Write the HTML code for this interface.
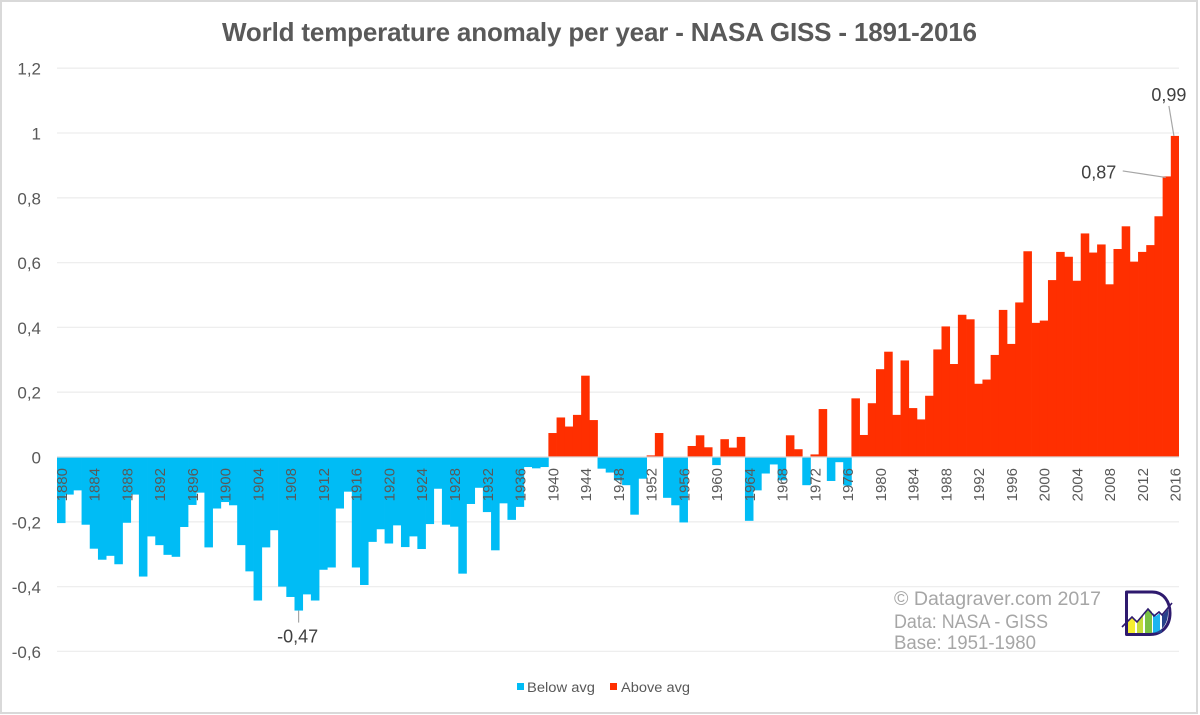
<!DOCTYPE html>
<html lang="en">
<head>
<meta charset="utf-8">
<title>World temperature anomaly per year - NASA GISS - 1891-2016</title>
<style>
html,body{margin:0;padding:0;background:#fff;}
#chart{display:block;width:1200px;height:715px;font-family:"Liberation Sans",Arial,sans-serif;}
</style>
</head>
<body>
<svg id="chart" xmlns="http://www.w3.org/2000/svg" width="1200" height="715" viewBox="0 0 1200 715">
  <rect x="1" y="1" width="1196" height="712" fill="#fff" stroke="#d9d9d9" stroke-width="2"/>
  <text x="222" y="41" font-size="26" font-weight="700" fill="#595959" textLength="755" lengthAdjust="spacing">World temperature anomaly per year - NASA GISS - 1891-2016</text>
  <g id="grid"></g>
  <g id="bars"></g>
  <g id="axis"></g>
  <g id="notes"></g>

  <g font-size="19" fill="#a6a6a6">
    <text x="894" y="605" textLength="207" lengthAdjust="spacingAndGlyphs">© Datagraver.com 2017</text>
    <text x="894" y="628" textLength="154" lengthAdjust="spacingAndGlyphs">Data: NASA - GISS</text>
    <text x="894" y="649" textLength="142" lengthAdjust="spacingAndGlyphs">Base: 1951-1980</text>
  </g>

  <g>
    <path d="M1126.5 592 H1152 C1164 592 1170 602 1170 613 C1170 626 1162 634.5 1150 634.5 H1126.5 Z" fill="#fff" stroke="#2e1a6e" stroke-width="3" stroke-linejoin="round"/>
    <polygon points="1128,622 1132,618 1135,620 1135,633 1128,633" fill="#f5ee30"/>
    <polygon points="1137,621 1143,615 1143,633 1137,633" fill="#c5dc3a"/>
    <polygon points="1145,613 1149,609 1152,612 1152,633 1145,633" fill="#7ac143"/>
    <polygon points="1153,613 1156,616 1160,613 1160,633 1153,633" fill="#1cb5f0"/>
    <path d="M1162,613 L1163,615 L1168,609 C1169,622 1163,633 1150,633 L1162,633 Z" fill="#27408b"/>
    <polyline points="1122,627 1132,617 1137,622 1148,609 1154,616 1159,612 1162,615 1172,603" fill="none" stroke="#2e1a6e" stroke-width="1.6"/>
  </g>

  <g font-size="13.5" fill="#595959">
    <g>
      <rect x="517" y="683" width="7" height="7" fill="#00bcf5"/>
      <text x="527" y="692" textLength="68" lengthAdjust="spacingAndGlyphs">Below avg</text>
    </g>
    <g>
      <rect x="610" y="683" width="7" height="7" fill="#ff2f00"/>
      <text x="621" y="692" textLength="69" lengthAdjust="spacingAndGlyphs">Above avg</text>
    </g>
  </g>
</svg>
<script>
const years = [1880,1881,1882,1883,1884,1885,1886,1887,1888,1889,
  1890,1891,1892,1893,1894,1895,1896,1897,1898,1899,
  1900,1901,1902,1903,1904,1905,1906,1907,1908,1909,
  1910,1911,1912,1913,1914,1915,1916,1917,1918,1919,
  1920,1921,1922,1923,1924,1925,1926,1927,1928,1929,
  1930,1931,1932,1933,1934,1935,1936,1937,1938,1939,
  1940,1941,1942,1943,1944,1945,1946,1947,1948,1949,
  1950,1951,1952,1953,1954,1955,1956,1957,1958,1959,
  1960,1961,1962,1963,1964,1965,1966,1967,1968,1969,
  1970,1971,1972,1973,1974,1975,1976,1977,1978,1979,
  1980,1981,1982,1983,1984,1985,1986,1987,1988,1989,
  1990,1991,1992,1993,1994,1995,1996,1997,1998,1999,
  2000,2001,2002,2003,2004,2005,2006,2007,2008,2009,
  2010,2011,2012,2013,2014,2015,2016];
const anomalies = [-0.204,-0.116,-0.103,-0.209,-0.283,-0.317,-0.305,-0.331,-0.203,-0.116,
  -0.369,-0.245,-0.272,-0.302,-0.308,-0.216,-0.148,-0.110,-0.279,-0.159,
  -0.139,-0.149,-0.272,-0.353,-0.443,-0.279,-0.226,-0.400,-0.432,-0.474,
  -0.424,-0.443,-0.348,-0.341,-0.159,-0.107,-0.341,-0.395,-0.262,-0.223,
  -0.267,-0.211,-0.278,-0.245,-0.284,-0.207,-0.098,-0.209,-0.215,-0.360,
  -0.145,-0.095,-0.170,-0.288,-0.143,-0.194,-0.154,-0.031,-0.035,-0.031,
  0.074,0.122,0.094,0.130,0.251,0.114,-0.036,-0.048,-0.072,-0.087,
  -0.178,-0.067,0.005,0.074,-0.126,-0.149,-0.202,0.034,0.067,0.030,
  -0.025,0.055,0.029,0.062,-0.197,-0.103,-0.051,-0.023,-0.072,0.067,
  0.024,-0.087,0.008,0.148,-0.074,-0.016,-0.088,0.181,0.068,0.166,
  0.271,0.325,0.130,0.298,0.151,0.116,0.189,0.332,0.403,0.287,
  0.439,0.425,0.226,0.239,0.315,0.454,0.349,0.477,0.635,0.414,
  0.421,0.546,0.633,0.618,0.544,0.690,0.631,0.656,0.533,0.642,
  0.712,0.603,0.633,0.654,0.743,0.866,0.991];
const yTicks = [-0.6,-0.4,-0.2,0,0.2,0.4,0.6,0.8,1,1.2];
const xTickLabels = [1880,1884,1888,1892,1896,1900,1904,1908,1912,1916,1920,1924,1928,1932,1936,1940,1944,1948,1952,1956,1960,1964,1968,1972,1976,1980,1984,1988,1992,1996,2000,2004,2008,2012,2016];
const annotatedYears = [1909,2015,2016];

const NS = 'http://www.w3.org/2000/svg';
const plotLeft = 57, plotRight = 1179, zeroY = 457, pxPerUnit = 324;
const slot = (plotRight - plotLeft) / years.length;
const xPos = function (year) { return plotLeft + (year - years[0]) * slot; };
const yPos = function (v) { return zeroY - v * pxPerUnit; };
const fmt = function (v) { return String(v).replace('.', ','); };
const make = function (tag, attrs, parent) {
  const el = document.createElementNS(NS, tag);
  for (const k in attrs) el.setAttribute(k, attrs[k]);
  parent.appendChild(el);
  return el;
};

const gridG = document.getElementById('grid');
const barsG = document.getElementById('bars');
const axisG = document.getElementById('axis');
const notesG = document.getElementById('notes');

yTicks.forEach(function (t) {
  if (t !== 0) {
    const line = make('line', {x1: plotLeft, x2: plotRight, y1: yPos(t), y2: yPos(t), stroke: '#eeeeee', 'stroke-width': 1.3}, gridG);
    
    
  }
  const label = make('text', {x: 41, y: yPos(t) + 6.5, 'text-anchor': 'end', 'font-size': 17, fill: '#595959'}, axisG);
  
  
  label.textContent = fmt(t);
});

years.forEach(function (year, i) {
  const v = anomalies[i];
  const top = Math.min(yPos(v), zeroY);
  const h = Math.abs(v) * pxPerUnit;
  const overlap = year === years[years.length - 1] ? 0 : 0.35;
  const bar = make('rect', {x: xPos(year), y: top, width: slot + overlap, height: h, fill: v < 0 ? '#00bcf5' : '#ff2f00'}, barsG);
  
  
});

const axisLine = make('line', {x1: plotLeft, x2: plotRight, y1: zeroY, y2: zeroY, stroke: '#d9d9d9', 'stroke-width': 1.3}, axisG);



xTickLabels.forEach(function (year) {
  const bx = xPos(year) + slot / 2 + 5.8;
  const label = make('text', {x: bx, y: 468, 'text-anchor': 'end', 'font-size': 15, fill: '#595959', transform: 'rotate(-90 ' + bx + ' 468)'}, axisG);
  
  
  label.textContent = year;
});

annotatedYears.forEach(function (year) {
  const v = anomalies[years.indexOf(year)];
  const cx = xPos(year) + slot / 2;
  const by = yPos(v);
  let x1, y1, x2, y2, tx, ty;
  if (v < 0) {
    x1 = cx; y1 = by; x2 = cx; y2 = by + 12; tx = cx - 1; ty = by + 32;
  } else if (year === 2016) {
    x1 = cx - 1; y1 = by; x2 = cx - 6; y2 = by - 30; tx = cx - 6; ty = by - 35;
  } else {
    x1 = cx - 1; y1 = by + 1; x2 = cx - 44; y2 = by - 5.5; tx = cx - 68; ty = by + 2;
  }
  const leader = make('line', {x1: x1, y1: y1, x2: x2, y2: y2, stroke: '#a6a6a6', 'stroke-width': 1.2}, notesG);
  
  
  const label = make('text', {x: tx, y: ty, 'text-anchor': 'middle', 'font-size': 18, fill: '#404040'}, notesG);
  
  
  label.textContent = fmt(Math.round(v * 100) / 100);
});
</script>
</body>
</html>
